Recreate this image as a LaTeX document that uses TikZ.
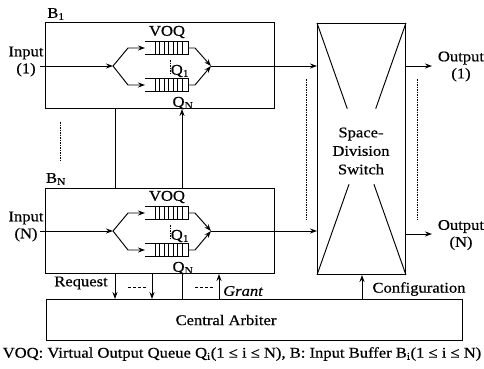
\documentclass[tikz,border=0pt]{standalone}
\usepackage{fontspec}
\setmainfont[FakeStretch=1.12,FakeBold=0.6]{Liberation Serif}
\usetikzlibrary{arrows.meta,calc}
\newcommand{\mysub}[1]{\textsubscript{#1}}
\newcommand{\drawbuf}[4]{%
\begin{scope}[yshift=-#2pt]
  \node (#1lab) at (56,14) {B\mysub{#4}};
  \node[twoline] (#1in) at (26,61.5) {Input\\(#3)};
  \coordinate (#1s) at (40,66);
  \coordinate (#1sp) at (113,66);
  \coordinate (#1mg) at (211,66);
  \draw[arr] (#1s) -- (#1sp);
  \node[queue] (#1qa) at (145,48) {};
  \node[queue] (#1qb) at (145,85) {};
  \draw (#1qa.north west) -- (#1qa.north east) -- (#1qa.south east) -- (#1qa.south west);
  \draw (#1qb.north west) -- (#1qb.north east) -- (#1qb.south east) -- (#1qb.south west);
  \foreach \x in {155,159.5,...,182.5} {
    \draw (\x,42) -- (\x,54);
    \draw (\x,79) -- (\x,91);
  }
  \draw[arr] (#1sp) -- (128,48) -- (#1qa.west);
  \draw[arr] (#1sp) -- (128,85) -- (#1qb.west);
  \draw[arr] (#1qa.east) -- (195,48) -- (#1mg);
  \draw[arr] (#1qb.east) -- (195,85) -- (#1mg);
  \node (#1voq) at (167,32) {VOQ};
  \node (#1q1) at (180,71) {Q\mysub{1}};
  \draw[dotv] (170,60) -- (170,73);
  \node (#1qn) at (183,103) {Q\mysub{N}};
\end{scope}}
\begin{document}
\begin{tikzpicture}[x=1pt,y=-1pt,line width=0.95pt,
  every node/.style={font=\fontsize{14.8}{17}\selectfont, inner sep=0pt},
  blk/.style={draw, minimum width=229pt, anchor=north west},
  queue/.style={minimum width=43pt, minimum height=12pt, anchor=west},
  twoline/.style={align=center},
  arr/.style={-{Stealth[length=7pt,width=5pt]}},
  dotv/.style={line width=0.7pt, dash pattern=on 1.5pt off 1pt},
  dsh/.style={dash pattern=on 3pt off 2pt}]
\useasboundingbox (0,0) rectangle (484,368);
% buffers
\node[blk, minimum height=86pt] (b1) at (45,22) {};
\node[blk, minimum height=85pt] (bn) at (45,188) {};
\drawbuf{p}{0}{1}{1}
\drawbuf{q}{165}{N}{N}
% switch
\node[draw, minimum width=88pt, minimum height=251pt, anchor=north west] (sw) at (317,23) {};
\node[align=center, font=\fontsize{14.8}{18.5}\selectfont] (swt) at (361,151) {Space-\\Division\\Switch};
\draw (sw.north west) -- ($(sw.north west)!0.68!(sw.center)$);
\draw (sw.north east) -- ($(sw.north east)!0.68!(sw.center)$);
\draw (sw.south west) -- ($(sw.south west)!0.72!(sw.center)$);
\draw (sw.south east) -- ($(sw.south east)!0.72!(sw.center)$);
\draw[arr] (pmg) -- (pmg -| sw.west);
\draw[arr] (qmg) -- (qmg -| sw.west);
% outputs
\coordinate (o1) at (432,66);
\coordinate (on) at (432,234);
\draw[arr] (o1 -| sw.east) -- (o1);
\draw[arr] (on -| sw.east) -- (on);
\node[twoline] (o1t) at (461,66.5) {Output\\(1)};
\node[twoline] (ont) at (461,235) {Output\\(N)};
% dotted ellipses
\draw[dotv] (60,122) -- (60,162);
\draw[dotv] (306,79) -- (306,220);
\draw[dotv] (417,79) -- (417,220);
% arbiter
\node[draw, minimum width=416pt, minimum height=41pt, anchor=north west] (arb) at (46,299) {};
\node (arbt) at (226,320) {Central Arbiter};
\coordinate (x115) at (115,0);
\coordinate (x152) at (152,0);
\coordinate (x182) at (182,0);
\coordinate (x219) at (219,0);
\coordinate (x362) at (362,0);
\draw (b1.south -| x115) -- (bn.north -| x115);
\draw[arr] (bn.north -| x182) -- (b1.south -| x182);
\draw[arr] (bn.south -| x115) -- (arb.north -| x115);
\draw[arr] (bn.south -| x152) -- (arb.north -| x152);
\draw (bn.south -| x182) -- (arb.north -| x182);
\draw[arr] (arb.north -| x219) -- (bn.south -| x219);
\draw[arr] (arb.north -| x362) -- (sw.south -| x362);
\draw[dsh] (128,287) -- (146,287);
\draw[dsh] (195,287) -- (213,287);
\node (req) at (81,283) {Request};
\node (grant) at (243,291) {\itshape Grant};
\node (conf) at (419,289) {Configuration};
% caption
\node (cap) at (242,354) {VOQ: Virtual Output Queue Q\mysub{i}(1 ≤ i ≤ N), B: Input Buffer B\mysub{i}(1 ≤ i ≤ N)};
\end{tikzpicture}
\end{document}
